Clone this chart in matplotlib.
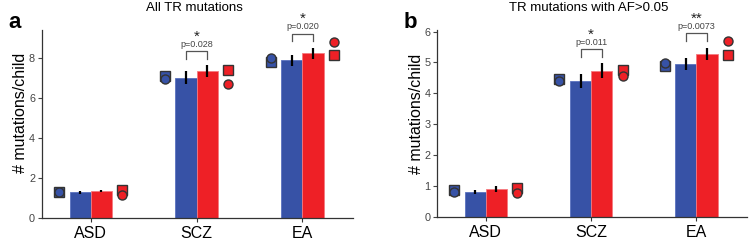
import matplotlib
matplotlib.use("Agg")
import matplotlib.pyplot as plt
import numpy as np

plt.rcParams['font.family'] = ['Liberation Sans', 'DejaVu Sans']

groups = ["ASD", "SCZ", "EA"]

# Panel a: All TR mutations
a_blue = [1.28, 7.02, 7.89]
a_blue_err = [0.06, 0.31, 0.27]
a_red = [1.35, 7.34, 8.24]
a_red_err = [0.07, 0.29, 0.27]
a_blue_sq = [1.32, 7.10, 7.79]
a_blue_ci = [1.28, 6.95, 8.02]
a_red_sq = [1.41, 7.40, 8.15]
a_red_ci = [1.13, 6.69, 8.82]
a_pvals = ["", "p=0.028", "p=0.020"]
a_stars = ["", "*", "*"]

# Panel b: TR mutations with AF>0.05
b_blue = [0.82, 4.41, 4.96]
b_blue_err = [0.07, 0.23, 0.19]
b_red = [0.90, 4.74, 5.28]
b_red_err = [0.09, 0.23, 0.20]
b_blue_sq = [0.88, 4.46, 4.90]
b_blue_ci = [0.80, 4.40, 4.99]
b_red_sq = [0.93, 4.77, 5.23]
b_red_ci = [0.78, 4.55, 5.68]
b_pvals = ["", "p=0.011", "p=0.0073"]
b_stars = ["", "*", "**"]

BLUE = "#3752a6"
RED = "#ee2026"
GRAY = "#333333"

fig = plt.figure(figsize=(7.5, 2.42), dpi=100)

def panel(rect, blue, berr, red, rerr, bsq, bci, rsq, rci, pvals, stars,
          ylim, yticks, title, letter, unit, label_xy):
    ax = fig.add_axes(rect)
    x = np.arange(len(groups))
    w = 0.2
    ax.bar(x - w/2, blue, w, color=BLUE, edgecolor="#5a72c0", linewidth=0.6, zorder=2)
    ax.bar(x + w/2, red, w, color=RED, edgecolor="#f57a80", linewidth=0.6, zorder=2)
    ax.errorbar(x - w/2, blue, yerr=berr, fmt="none", ecolor="black", elinewidth=1.6, capsize=0, zorder=3)
    ax.errorbar(x + w/2, red, yerr=rerr, fmt="none", ecolor="black", elinewidth=1.6, capsize=0, zorder=3)
    ms = 6.5
    ax.plot(x - 0.30, bsq, "s", ms=ms, mfc=BLUE, mec=GRAY, mew=1.0, ls="none", zorder=4, clip_on=False)
    ax.plot(x - 0.30, bci, "o", ms=ms, mfc=BLUE, mec=GRAY, mew=1.0, ls="none", zorder=5, clip_on=False)
    ax.plot(x + 0.30, rsq, "s", ms=ms, mfc=RED, mec=GRAY, mew=1.0, ls="none", zorder=4, clip_on=False)
    ax.plot(x + 0.30, rci, "o", ms=ms, mfc=RED, mec=GRAY, mew=1.0, ls="none", zorder=5, clip_on=False)
    for i in range(len(groups)):
        if not pvals[i]:
            continue
        top = max(blue[i] + berr[i], red[i] + rerr[i])
        y0 = top + 0.33 * unit
        y1 = y0 + 0.38 * unit
        ax.plot([x[i] - w/2, x[i] - w/2, x[i] + w/2, x[i] + w/2], [y0, y1, y1, y0],
                color="#555555", lw=0.9, clip_on=False)
        ax.text(x[i], y1 + 0.34 * unit, pvals[i], ha="center", va="center",
                fontsize=6.5, color="#444444", clip_on=False)
        ax.text(x[i], y1 + 0.72 * unit, stars[i], ha="center", va="center",
                fontsize=11, color="#222222", clip_on=False)
    ax.set_xlim(-0.46, 2.48)
    ax.set_ylim(*ylim)
    ax.set_yticks(yticks)
    ax.set_xticks(x)
    ax.set_xticklabels(groups, fontsize=11.5)
    ax.tick_params(axis="y", labelsize=7.8, length=3, width=0.8, pad=2, colors="#444444")
    ax.tick_params(axis="x", length=3, width=0.8, pad=3, colors="#333333")
    for lbl in ax.get_xticklabels():
        lbl.set_color("black")
    for s in ["top", "right"]:
        ax.spines[s].set_visible(False)
    for s in ["left", "bottom"]:
        ax.spines[s].set_color("#333333")
        ax.spines[s].set_linewidth(0.9)
    ax.set_ylabel("# mutations/child", fontsize=11.5)
    ax.yaxis.set_label_coords(*label_xy)
    fig.text(rect[0] + rect[2] * 0.49, 0.965, title, ha="center", va="center", fontsize=9.5)
    fig.text(rect[0] - 0.045, 0.905, letter, ha="left", va="center", fontsize=16, fontweight="bold")
    return ax

panel([0.056, 0.099, 0.415, 0.777], a_blue, a_blue_err, a_red, a_red_err,
      a_blue_sq, a_blue_ci, a_red_sq, a_red_ci, a_pvals, a_stars,
      (0, 9.4), [0, 2, 4, 6, 8], "All TR mutations", "a", 1.0, (-0.045, 0.56))
panel([0.583, 0.103, 0.413, 0.773], b_blue, b_blue_err, b_red, b_red_err,
      b_blue_sq, b_blue_ci, b_red_sq, b_red_ci, b_pvals, b_stars,
      (0, 6.05), [0, 1, 2, 3, 4, 5, 6], "TR mutations with AF>0.05", "b", 0.645, (-0.042, 0.55))

fig.savefig("out.png", dpi=100)
